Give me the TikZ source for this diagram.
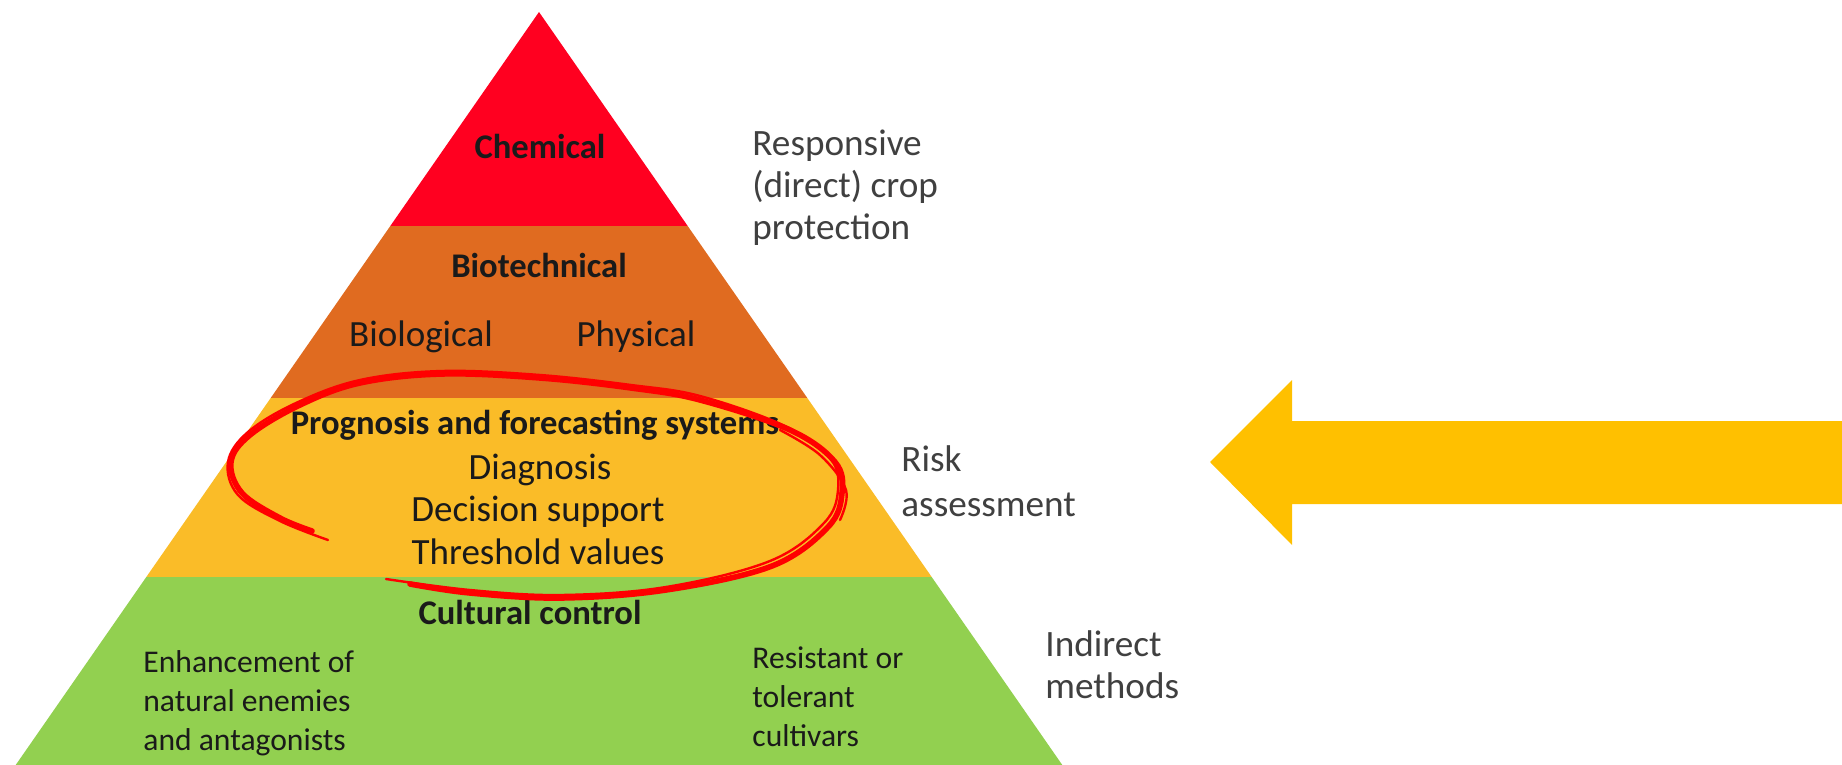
\documentclass[tikz,border=0pt]{standalone}
\usepackage{fontspec}
\setmainfont{Carlito}
\definecolor{cred}{HTML}{FF0020}
\definecolor{corange}{HTML}{E06B20}
\definecolor{cyellow}{HTML}{FABC28}
\definecolor{cgreen}{HTML}{92D050}
\definecolor{carrow}{HTML}{FFC000}
\definecolor{cside}{HTML}{404040}
\definecolor{cink}{HTML}{1A1A1A}
\definecolor{cloop}{HTML}{FF0000}
\tikzset{
  band/.style={draw=none},
  head/.style={font=\fontsize{17.3}{20}\selectfont\bfseries, text=cink, inner sep=0pt},
  item/.style={font=\fontsize{18.5}{20.5}\selectfont, text=cink, inner sep=0pt},
  small/.style={font=\fontsize{15.8}{19.5}\selectfont, text=cink, inner sep=0pt, align=left, anchor=west},
  side/.style={font=\fontsize{18.6}{21}\selectfont, text=cside, inner sep=0pt, align=left, anchor=west},
  loop/.style={draw=cloop, line width=2.8pt, line cap=round, line join=round},
  loopthin/.style={draw=cloop, line width=1.2pt, line cap=round, line join=round}
}
\begin{document}
\begin{tikzpicture}[x=0.5pt,y=-0.5pt]
\useasboundingbox (0,0) rectangle (1842,765);
% pyramid bands
\fill[band, cred] (539,12) -- (687.7,226) -- (390.3,226) -- cycle;
\fill[band, corange] (390.3,226) -- (687.7,226) -- (807.3,398) -- (270.7,398) -- cycle;
\fill[band, cyellow] (270.7,398) -- (807.3,398) -- (931.7,577) -- (146.3,577) -- cycle;
\fill[band, cgreen] (146.3,577) -- (931.7,577) -- (1062.3,765) -- (15.7,765) -- cycle;
% texts in pyramid
\node[head] (chem) at (540,146) {Chemical};
\node[head] (biotech) at (539,265) {Biotechnical};
\node[item] (biol) at (421,337) {Biological};
\node[item] (phys) at (636,337) {Physical};
\node[head] (prog) at (535,425) {Prognosis and forecasting systems};
\node[item] (diag) at (540,470) {Diagnosis};
\node[item] (dec) at (538,512) {Decision support};
\node[item] (thr) at (538,552) {Threshold values};
\node[head] (cult) at (530,612) {Cultural control};
\node[small] (enh) at (143,703) {Enhancement of\\natural enemies\\and antagonists};
\node[small] (res) at (752,697) {Resistant or\\tolerant\\cultivars};
% side labels
\node[side] (resp) at (752,188) {Responsive\\(direct) crop\\protection};
\node[side, font=\fontsize{18.6}{22.5}\selectfont] (risk) at (901,481) {Risk\\assessment};
\node[side] (indir) at (1045,665) {Indirect\\methods};
% red hand-drawn loop
\draw[loop] plot[smooth, tension=0.6] coordinates {
  (410,584) (470,593) (561,598) (666,590) (772,566) (828,527) (842,493)
  (835,462) (790,430) (700,400) (631,388) (540,378) (442,374) (360,383)
  (300,405) (250,435) (231,462) (242,493) (280,518) (312,531)};
\draw[loopthin] plot[smooth, tension=0.6] coordinates {
  (386,579) (470,590) (561,595) (666,587) (770,561) (824,523) (838,490)
  (830,458) (785,426) (700,396) (631,385) (540,375) (442,371) (360,380)
  (296,403) (248,432) (228,462) (238,495) (280,521) (328,540)};
\draw[loopthin] plot[smooth, tension=0.6] coordinates {
  (780,430) (820,455) (846,490) (840,520)};
% big arrow
\fill[carrow] (1210,462) -- (1292,380) -- (1292,421) -- (1842,421) -- (1842,504) -- (1292,504) -- (1292,545) -- cycle;
\end{tikzpicture}
\end{document}
